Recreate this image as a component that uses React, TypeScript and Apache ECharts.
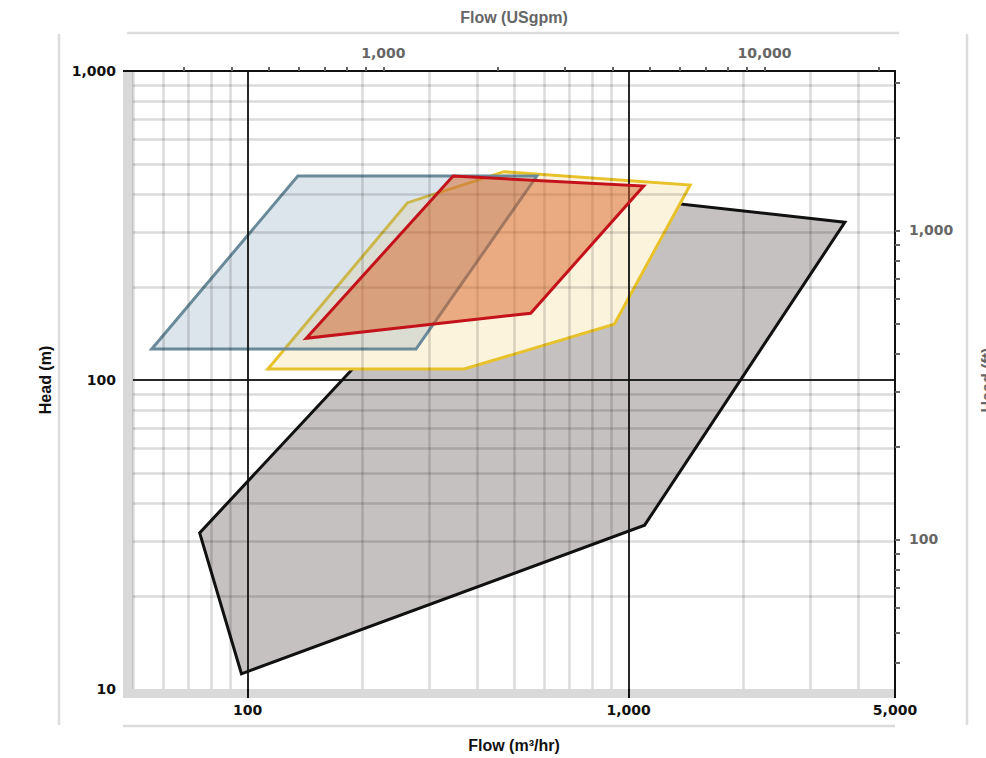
import React, { useEffect, useRef } from 'react';
import * as echarts from 'echarts';

// unit conversions for the secondary axes
const M3H_TO_USGPM = 4.402868;
const M_TO_FT = 3.28084;

const flowMin = 50;
const flowMax = 5000;
const headMin = 10;
const headMax = 1000;

// tick / label values
const bottomLabels = [100, 1000, 5000];
const bottomMajorTicks = [100, 1000, 5000];
const leftLabels = [10, 100, 1000];
const topLabels = [1000, 10000];
const topTicks = [300, 400, 500, 600, 700, 800, 900, 1000, 2000, 3000, 4000, 5000, 6000, 7000, 8000, 9000, 10000, 20000];
const rightLabels = [100, 1000];
const rightTicks = [40, 50, 60, 70, 80, 90, 100, 200, 300, 400, 500, 600, 700, 800, 900, 1000, 2000, 3000];

// grid lines
const flowGridMinor = [50, 60, 70, 80, 90, 200, 300, 400, 500, 600, 700, 800, 900, 2000, 3000, 4000];
const flowGridMajor = [100, 1000];
const headGridMinor = [20, 30, 40, 50, 60, 70, 80, 90, 200, 300, 400, 500, 600, 700, 800, 900];
const headGridMajor = [100];

// performance ranges: [flow m3/hr, head m]
const rangeGrey = [[74.8, 32.0], [96.3, 11.2], [1101, 33.9], [3692, 323.9], [527, 422.9]];
const rangeBlue = [[56.0, 126], [135.4, 457], [574, 457], [276.5, 126]];
const rangeYellow = [[113, 108.5], [262.8, 374.8], [470.7, 472.2], [1450, 427.6], [917, 151.5], [369.9, 108.5]];
const rangeRed = [[142.5, 136.4], [346, 457], [1094.6, 424.5], [553, 164.4]];

const fmt = (v: number) => String(Math.round(v)).replace(/\B(?=(\d{3})+(?!\d))/g, ',');

const TICK_FONT = 'DejaVu Sans';
const NAME_FONT = 'Liberation Sans';

function polySeries(name: string, pts: number[][], stroke: string, fill: string, z: number) {
  return {
    type: 'custom',
    name,
    z,
    silent: true,
    clip: true,
    xAxisIndex: 0,
    yAxisIndex: 0,
    data: [pts[0]],
    renderItem: (_params: any, api: any) => ({
      type: 'polygon',
      shape: { points: pts.map((p) => api.coord(p)) },
      style: { fill, stroke, lineWidth: 3, lineJoin: 'miter' },
    }),
  };
}

export default function App() {
  const ref = useRef<HTMLDivElement>(null);

  useEffect(() => {
    if (!ref.current) return;
    const chart = echarts.init(ref.current, undefined, { renderer: 'svg' });
    const band = '#d9d9d9';
    const option: any = {
      animation: false,
      grid: { left: 133, right: 91, top: 71, bottom: 69, containLabel: false, outerBoundsMode: 'none' },
      xAxis: [
        {
          type: 'log',
          logBase: 10,
          min: flowMin,
          max: flowMax,
          position: 'bottom',
          z: 5,
          name: 'Flow (m³/hr)',
          nameLocation: 'middle',
          nameGap: 48,
          nameTextStyle: { fontFamily: NAME_FONT, fontWeight: 'bold', fontSize: 16, color: '#111' },
          axisLine: { show: false },
          axisTick: { show: true, customValues: bottomMajorTicks, length: 9, inside: false, lineStyle: { color: '#111', width: 2 } },
          axisLabel: {
            customValues: bottomLabels,
            formatter: (v: number) => fmt(v),
            margin: 14,
            fontFamily: TICK_FONT,
            fontWeight: 'bold',
            fontSize: 14,
            color: '#111',
          },
          splitLine: { show: false },
        },
        {
          type: 'log',
          logBase: 10,
          min: flowMin * M3H_TO_USGPM,
          max: flowMax * M3H_TO_USGPM,
          position: 'top',
          z: 5,
          name: 'Flow (USgpm)',
          nameLocation: 'middle',
          nameGap: 46,
          nameTextStyle: { fontFamily: NAME_FONT, fontWeight: 'bold', fontSize: 16, color: '#666' },
          axisLine: { show: true, lineStyle: { color: '#111', width: 2 } },
          axisTick: { show: true, customValues: topTicks, length: 4, inside: false, lineStyle: { color: '#666', width: 2 } },
          axisLabel: {
            customValues: topLabels,
            formatter: (v: number) => fmt(v),
            margin: 11,
            fontFamily: TICK_FONT,
            fontWeight: 'bold',
            fontSize: 14,
            color: '#666',
          },
          splitLine: { show: false },
        },
      ],
      yAxis: [
        {
          type: 'log',
          logBase: 10,
          min: headMin,
          max: headMax,
          position: 'left',
          z: 5,
          name: 'Head (m)',
          nameLocation: 'middle',
          nameGap: 80,
          nameTextStyle: { fontFamily: NAME_FONT, fontWeight: 'bold', fontSize: 16, color: '#111' },
          axisLine: { show: false },
          axisTick: { show: false },
          axisLabel: {
            customValues: leftLabels,
            formatter: (v: number) => fmt(v),
            margin: 17,
            fontFamily: TICK_FONT,
            fontWeight: 'bold',
            fontSize: 14,
            color: '#111',
          },
          splitLine: { show: false },
        },
        {
          type: 'log',
          logBase: 10,
          min: headMin * M_TO_FT,
          max: headMax * M_TO_FT,
          position: 'right',
          z: 5,
          name: 'Head (ft)',
          nameLocation: 'middle',
          nameGap: 84,
          nameTextStyle: { fontFamily: NAME_FONT, fontWeight: 'bold', fontSize: 16, color: '#666' },
          axisLine: { show: true, lineStyle: { color: '#111', width: 2 } },
          axisTick: { show: true, customValues: rightTicks, length: 5, inside: false, lineStyle: { color: '#666', width: 2 } },
          axisLabel: {
            customValues: rightLabels,
            formatter: (v: number) => fmt(v),
            margin: 14,
            fontFamily: TICK_FONT,
            fontWeight: 'bold',
            fontSize: 14,
            color: '#666',
          },
          splitLine: { show: false },
        },
      ],
      graphic: [
        { type: 'rect', z: 0, shape: { x: 123, y: 71, width: 10, height: 627 }, style: { fill: band } },
        { type: 'rect', z: 0, shape: { x: 123, y: 689, width: 772, height: 9 }, style: { fill: band } },
        { type: 'line', z: 0, shape: { x1: 123, y1: 71, x2: 134, y2: 71 }, style: { stroke: '#111', lineWidth: 2 } },
        { type: 'line', shape: { x1: 127, y1: 33, x2: 899, y2: 33 }, style: { stroke: '#dcdcdc', lineWidth: 2.5 } },
        { type: 'line', shape: { x1: 59, y1: 34, x2: 59, y2: 725 }, style: { stroke: '#dcdcdc', lineWidth: 2.5 } },
        { type: 'line', shape: { x1: 123, y1: 726, x2: 895, y2: 726 }, style: { stroke: '#dcdcdc', lineWidth: 2.5 } },
        { type: 'line', shape: { x1: 967, y1: 34, x2: 967, y2: 725 }, style: { stroke: '#dcdcdc', lineWidth: 2.5 } },
      ],
      series: [
        polySeries('Range A', rangeGrey, '#111111', 'rgb(197,193,192)', 2),
        polySeries('Range C', rangeYellow, '#e8c22a', 'rgb(252,243,220)', 3),
        polySeries('Range B', rangeBlue, '#6a8a99', 'rgba(120,150,180,0.25)', 4),
        polySeries('Range D', rangeRed, '#c4121a', 'rgba(215,100,40,0.5)', 5),
        {
          type: 'line',
          name: 'grid-minor',
          data: [],
          z: 6,
          silent: true,
          xAxisIndex: 0,
          yAxisIndex: 0,
          markLine: {
            silent: true,
            symbol: ['none', 'none'],
            label: { show: false },
            animation: false,
            lineStyle: { color: '#000000', opacity: 0.14, width: 2.5, type: 'solid' },
            emphasis: { disabled: true },
            data: [
              ...flowGridMinor.map((v) => ({ xAxis: v })),
              ...headGridMinor.map((v) => ({ yAxis: v })),
            ],
          },
        },
        {
          type: 'line',
          name: 'grid-major',
          data: [],
          z: 7,
          silent: true,
          xAxisIndex: 0,
          yAxisIndex: 0,
          markLine: {
            silent: true,
            symbol: ['none', 'none'],
            label: { show: false },
            animation: false,
            lineStyle: { color: '#111111', opacity: 0.9, width: 2, type: 'solid' },
            emphasis: { disabled: true },
            data: [
              ...flowGridMajor.map((v) => ({ xAxis: v })),
              ...headGridMajor.map((v) => ({ yAxis: v })),
            ],
          },
        },
      ],
    };
    chart.setOption(option);
    return () => chart.dispose();
  }, []);

  return (
    <div
      ref={ref}
      style={{ position: 'absolute', left: 0, top: 0, width: 986, height: 758, background: '#fff' }}
    />
  );
}
